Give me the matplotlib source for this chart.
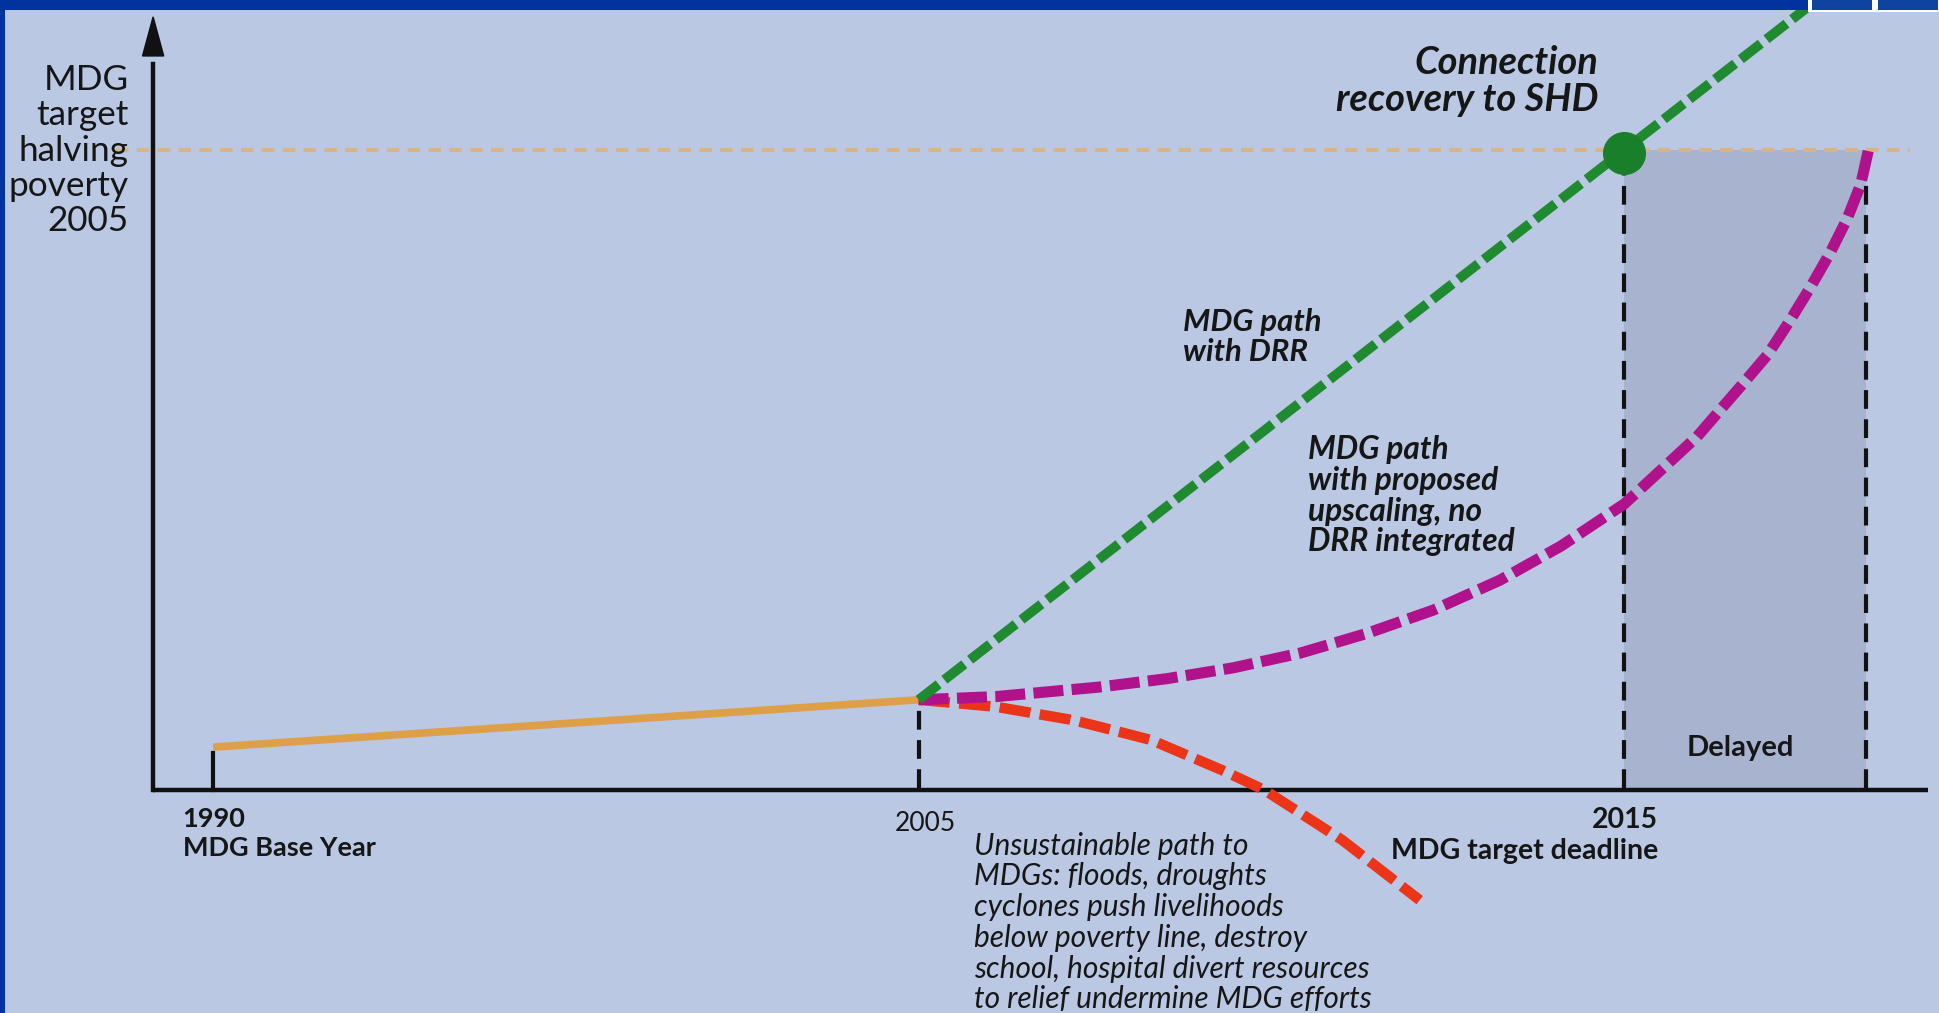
import numpy as np
import matplotlib.pyplot as plt
from matplotlib.patches import Rectangle, Polygon

"""
MDG poverty-halving schematic: base path, DRR path, upscaling path,
unsustainable path and the delayed window after the 2015 deadline.
"""

# --- Schematic data (x: 1990 = 0, 2005 = 10, 2015 = 20; y: target = 100) ---
base_x = [0.0, 10.0]
base_y = [6.7, 14.1]

drr_x = [10.0, 22.7]
drr_y = [14.1, 123.2]

upscale_x = [10.0, 11.1, 12.57, 13.52, 14.46, 15.41, 16.36, 17.29, 18.24, 19.1,
             20.0, 21.03, 21.36, 21.69, 22.03, 22.35, 22.64, 22.92, 23.16, 23.35, 23.46]
upscale_y = [14.1, 14.6, 16.1, 17.4, 19.1, 21.4, 24.5, 28.1, 32.8, 38.1,
             44.7, 55.2, 59.4, 63.6, 68.0, 73.4, 78.6, 84.0, 89.3, 94.6, 100.0]

unsust_x = [10.0, 11.1, 12.2, 13.3, 14.3, 14.9, 16.0, 17.1]
unsust_y = [14.1, 13.0, 10.9, 7.8, 3.1, 0.0, -7.8, -17.2]

target_y = 100.0
base_year_x = 0.0
mid_year_x = 10.0
deadline_x = 20.0
delayed_end_x = 23.43
connection_pt = (20.0, 99.5)

# --- Colours ---
bg = '#BAC8E3'
navy = '#0033A0'
orange = '#DDA048'
tan = '#D9B582'
green = '#1F8A2F'
magenta = '#B0128C'
red = '#EC3419'
shade = '#A8B4CF'

plt.rcParams['font.family'] = ['Lato', 'DejaVu Sans']

fig = plt.figure(figsize=(19.39, 10.13), dpi=100)
fig.patch.set_facecolor(bg)
ax = fig.add_axes([0, 0, 1, 1])
ax.set_facecolor(bg)
ax.set_xlim(-3.02, 24.46)
ax.set_ylim(-34.84, 123.44)
ax.axis('off')

# Delayed window
ax.add_patch(Rectangle((deadline_x, 0), delayed_end_x - deadline_x, target_y,
                       facecolor=shade, edgecolor='none', zorder=1))

# Target line
ax.axhline(target_y, xmin=0.06, xmax=0.985, color=tan, lw=3, ls=(0, (3, 2)), zorder=2)

# Axes with arrow
ax.plot([-0.85, 24.3], [0, 0], color='#111111', lw=3.2, solid_capstyle='butt', zorder=3)
ax.plot([-0.85, -0.85], [0, 113.5], color='#111111', lw=3.2, zorder=3)
ax.add_patch(Polygon([[-0.85, 120.8], [-1.0, 114.7], [-0.70, 114.7]],
                     closed=True, color='#111111', zorder=3))

# Reference verticals
ax.plot([base_year_x, base_year_x], [0, 5.8], color='#111111', lw=3, zorder=3)
for xv, ytop in [(mid_year_x, 14.1), (deadline_x, target_y), (delayed_end_x, target_y)]:
    ax.plot([xv, xv], [0.3, ytop], color='#111111', lw=3, ls=(0, (4.5, 2.5)), zorder=3)

# Paths
ax.plot(base_x, base_y, color=orange, lw=5.5, solid_capstyle='butt', zorder=4)
ax.plot(unsust_x, unsust_y, color=red, lw=7.5, ls=(0, (3.0, 0.9)), zorder=5)
ax.plot(upscale_x, upscale_y, color=magenta, lw=8, ls=(0, (2.7, 0.75)), zorder=5)
ax.plot(drr_x, drr_y, color=green, lw=7, ls=(0, (2.6, 0.75)), zorder=6)
ax.plot(*connection_pt, 'o', color='#1A7F2B', ms=30, zorder=7)

# Frame decoration
fig.patches.append(Rectangle((0, 0.99), 1, 0.01, transform=fig.transFigure,
                             facecolor=navy, edgecolor='none', zorder=10))
fig.patches.append(Rectangle((0, 0), 0.0026, 1, transform=fig.transFigure,
                             facecolor=navy, edgecolor='none', zorder=10))
fig.patches.append(Rectangle((0.9325, 0.988), 0.0675, 0.012, transform=fig.transFigure,
                             facecolor='white', edgecolor='none', zorder=11))
for x0 in [0.9345, 0.9685]:
    fig.patches.append(Rectangle((x0, 0.9905), 0.031, 0.0095, transform=fig.transFigure,
                                 facecolor='#0E43A0', edgecolor='none', zorder=12))

# Labels
txt = '#161616'
ax.text(-1.20, 99.9, 'MDG\ntarget\nhalving\npoverty\n2005', ha='right', va='center',
        fontsize=25.3, color=txt, linespacing=1.13)
ax.text(-0.43, -2.7, '1990\nMDG Base Year', ha='left', va='top',
        fontsize=19.5, fontweight='bold', color=txt, linespacing=1.25)
ax.text(10.09, -5.2, '2005', ha='center', va='center', fontsize=19, color=txt)
ax.text(20.48, -2.6, '2015\nMDG target deadline', ha='right', va='top',
        fontsize=20.5, fontweight='bold', color=txt, linespacing=1.24)
ax.text(10.79, -6.5, 'Unsustainable path to\nMDGs: floods, droughts\n'
        'cyclones push livelihoods\nbelow poverty line, destroy\n'
        'school, hospital divert resources\nto relief undermine MDG efforts',
        ha='left', va='top', fontsize=21.5, style='italic', color=txt, linespacing=1.12)
ax.text(19.63, 110.8, 'Connection\nrecovery to SHD', ha='right', va='center',
        fontsize=27.4, fontweight='bold', style='italic', color=txt, linespacing=1.05)
ax.text(13.75, 75.3, 'MDG path\nwith DRR', ha='left', va='top',
        fontsize=22.4, fontweight='bold', style='italic', color=txt, linespacing=1.08)
ax.text(15.52, 55.4, 'MDG path\nwith proposed\nupscaling, no\nDRR integrated',
        ha='left', va='top', fontsize=22.8, fontweight='bold', style='italic',
        color=txt, linespacing=1.07)
ax.text(21.64, 6.6, 'Delayed', ha='center', va='center',
        fontsize=21, fontweight='bold', color=txt)

fig.savefig('out.png', dpi=100, facecolor=bg)
